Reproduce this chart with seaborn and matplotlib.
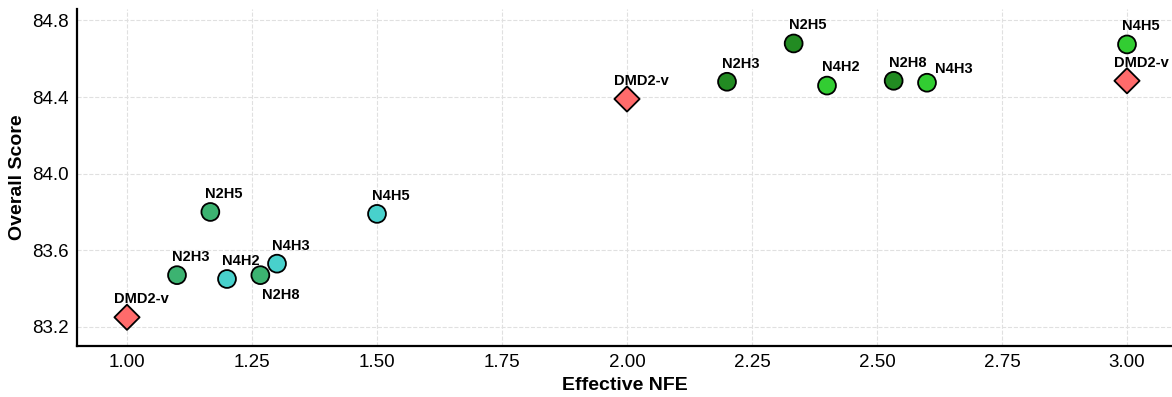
import matplotlib
matplotlib.use("Agg")
import matplotlib.pyplot as plt
import seaborn as sns
import pandas as pd

# data
nfe = [1.0, 1.1, 1.1667, 1.2, 1.2667, 1.3, 1.5,
       2.0, 2.2, 2.3333, 2.4, 2.5333, 2.6, 3.0, 3.0]
score = [83.25, 83.47, 83.80, 83.45, 83.47, 83.53, 83.79,
         84.39, 84.48, 84.68, 84.46, 84.485, 84.475, 84.675, 84.485]
labels = ["DMD2-v", "N2H3", "N2H5", "N4H2", "N2H8", "N4H3", "N4H5",
          "DMD2-v", "N2H3", "N2H5", "N4H2", "N2H8", "N4H3", "N4H5", "DMD2-v"]
groups = ["base", "N2a", "N2a", "N4a", "N2a", "N4a", "N4a",
          "base", "N2b", "N2b", "N4b", "N2b", "N4b", "N4b", "base"]
kinds = ["DMD2" if g == "base" else "ours" for g in groups]

palette = {"base": "#FF6B6B", "N2a": "#3CB371", "N4a": "#48D1CC",
           "N2b": "#228B22", "N4b": "#32CD32"}
markers = {"DMD2": "D", "ours": "o"}

df = pd.DataFrame({"nfe": nfe, "score": score, "label": labels,
                   "group": groups, "kind": kinds})

sns.set_style("white")
plt.rcParams["font.family"] = ["Liberation Sans", "DejaVu Sans"]
plt.rcParams["text.color"] = "black"
plt.rcParams["axes.labelcolor"] = "black"

fig = plt.figure(figsize=(11.72, 3.97), dpi=100)
ax = fig.add_axes([77 / 1172, 1 - 346 / 397, (1172 - 77) / 1172, (346 - 9) / 397])

sns.scatterplot(data=df, x="nfe", y="score", hue="group", style="kind",
                palette=palette, markers=markers, s=165, edgecolor="black",
                linewidth=1.3, legend=False, ax=ax, zorder=3)

# label placement offsets (points)
offsets = {i: (10, 8, "center", "bottom") for i in range(len(labels))}
offsets[4] = (15, -9, "center", "top")
offsets[12] = (6, 5, "left", "bottom")
for i, (x, y, t) in enumerate(zip(nfe, score, labels)):
    dx, dy, ha, va = offsets[i]
    ax.annotate(t, (x, y), xytext=(dx, dy), textcoords="offset points",
                ha=ha, va=va, fontsize=10.5, fontweight="bold", color="black", zorder=4)

ax.set_xlim(0.9, 3.09)
ax.set_ylim(83.1, 84.86)
ax.set_xticks([1.0, 1.25, 1.5, 1.75, 2.0, 2.25, 2.5, 2.75, 3.0])
ax.set_xticklabels(["1.00", "1.25", "1.50", "1.75", "2.00", "2.25", "2.50", "2.75", "3.00"])
ax.set_yticks([83.2, 83.6, 84.0, 84.4, 84.8])
ax.set_yticklabels(["83.2", "83.6", "84.0", "84.4", "84.8"])
ax.tick_params(direction="in", length=6, width=1.2, labelsize=13.5, colors="black", pad=6)
ax.grid(True, linestyle="--", color="#e0e0e0", linewidth=0.8, zorder=0)
ax.set_axisbelow(True)
for side in ["top", "right"]:
    ax.spines[side].set_visible(False)
for side in ["left", "bottom"]:
    ax.spines[side].set_color("black")
    ax.spines[side].set_linewidth(1.6)

ax.set_xlabel("Effective NFE", fontsize=14, fontweight="bold", color="black")
ax.set_ylabel("Overall Score", fontsize=14, fontweight="bold", color="black")

fig.savefig("out.png", dpi=100)
